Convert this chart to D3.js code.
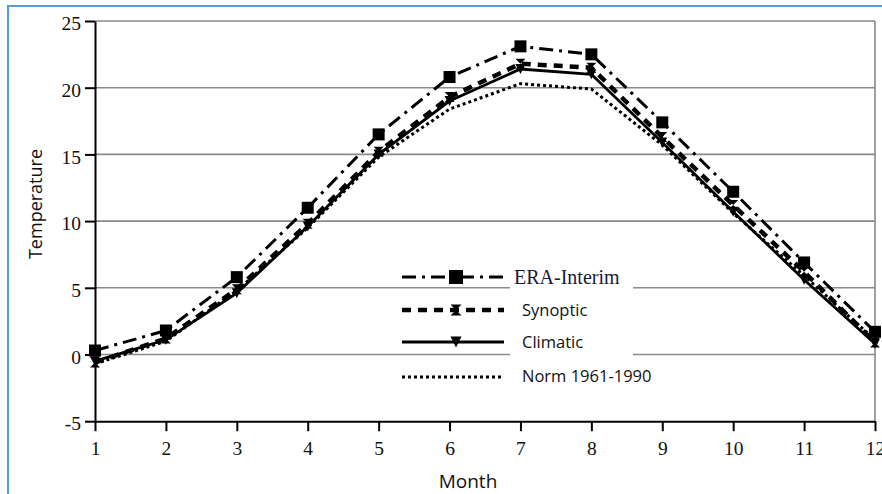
<!DOCTYPE html>
<html><head><meta charset="utf-8">
<script src="https://cdn.jsdelivr.net/npm/d3@7"></script>
<style>body{margin:0;background:#fff}svg{display:block}</style>
</head><body>
<script>
const months = [1,2,3,4,5,6,7,8,9,10,11,12];
const eraInterim = [0.3,1.8,5.8,11.0,16.5,20.8,23.1,22.5,17.4,12.2,6.9,1.7];
const synoptic   = [-0.6,1.2,4.9,9.8,15.2,19.3,21.8,21.5,16.3,11.2,6.2,0.9];
const climatic   = [-0.5,1.1,4.6,9.6,15.0,19.0,21.4,21.0,15.9,10.7,5.6,0.8];
const norm       = [-0.7,1.0,4.8,9.5,14.8,18.4,20.3,19.9,15.7,10.6,5.9,1.1];
const yTicks = [-5,0,5,10,15,20,25];
const yTickLabels = ["-5","0","5","10","15","20","25"];
const seriesNames = ["ERA-Interim","Synoptic","Climatic","Norm 1961-1990"];

const W=882,H=494;
const svg=d3.select("body").append("svg").attr("width",W).attr("height",H);
svg.append("rect").attr("x",8).attr("y",6).attr("width",W+20).attr("height",H+20)
  .attr("fill","#fff").attr("stroke","#5b9bd5").attr("stroke-width",2);

const x=d3.scaleLinear().domain([1,12]).range([95,875]);
const y=d3.scaleLinear().domain([-5,25]).range([421.2,21]);

// gridlines
svg.append("g").selectAll("line").data(yTicks.filter(d=>d>-5)).join("line")
  .attr("x1",x(1)).attr("x2",x(12)).attr("y1",d=>y(d)).attr("y2",d=>y(d))
  .attr("stroke","#8a8a8a").attr("stroke-width",1.6);
svg.append("line").attr("x1",x(12)).attr("x2",x(12)).attr("y1",y(25)).attr("y2",y(-5))
  .attr("stroke","#8a8a8a").attr("stroke-width",1.6);

// legend white box (hides gridlines behind text)
svg.append("rect").attr("x",510).attr("y",262).attr("width",123).attr("height",132).attr("fill","#fff");

// axes
const yAxis=d3.axisLeft(y).tickValues(yTicks).tickSize(10).tickSizeOuter(0).tickPadding(4)
  .tickFormat((d,i)=>yTickLabels[i]);
const gy=svg.append("g").attr("transform",`translate(${x(1)},0)`).call(yAxis);
gy.select(".domain").attr("stroke","#000").attr("stroke-width",2);
gy.selectAll(".tick line").attr("stroke","#000").attr("stroke-width",2);
gy.selectAll(".tick text").attr("font-family","'Liberation Serif',serif").attr("font-size",19.5).attr("fill","#111").attr("dy","0.45em");

const xAxis=d3.axisBottom(x).tickValues(months).tickSize(10).tickSizeOuter(0).tickPadding(10).tickFormat(d3.format("d"));
const gx=svg.append("g").attr("transform",`translate(0,${y(-5)})`).call(xAxis);
gx.select(".domain").attr("stroke","#000").attr("stroke-width",2);
gx.selectAll(".tick line").attr("stroke","#000").attr("stroke-width",2);
gx.selectAll(".tick text").attr("font-family","'Liberation Serif',serif").attr("font-size",19.5).attr("fill","#111");

// axis titles
svg.append("text").attr("transform","translate(42,204) rotate(-90)").attr("text-anchor","middle")
  .attr("font-family","'Open Sans',sans-serif").attr("font-size",18).attr("fill","#111").text("Temperature");
svg.append("text").attr("x",468).attr("y",488).attr("text-anchor","middle")
  .attr("font-family","'Open Sans',sans-serif").attr("font-size",19).attr("fill","#111").text("Month");

const styles=[
  {data:eraInterim, dash:"14,6,3,6", width:3, marker:"square"},
  {data:synoptic, dash:"9,7", width:4.5, marker:"hourglass"},
  {data:climatic, dash:null, width:2.8, marker:"tri"},
  {data:norm, dash:"3,3", width:3, marker:null}
];
const line=d3.line().x((d,i)=>x(months[i])).y(d=>y(d));

function drawMarker(g,type,cx,cy,s){
  if(type==="square"){
    g.append("rect").attr("x",cx-s/2).attr("y",cy-s/2).attr("width",s).attr("height",s).attr("fill","#000");
  } else if(type==="tri"){
    g.append("path").attr("d",`M${cx-s/2},${cy-s/2}L${cx+s/2},${cy-s/2}L${cx},${cy+s/2}Z`).attr("fill","#000");
  } else if(type==="hourglass"){
    g.append("path").attr("d",`M${cx-s/2},${cy-s/2}L${cx+s/2},${cy-s/2}L${cx},${cy}Z M${cx-s/2},${cy+s/2}L${cx+s/2},${cy+s/2}L${cx},${cy}Z`).attr("fill","#000");
  }
}

const order=[3,2,1,0];
order.forEach(k=>{
  const s=styles[k];
  svg.append("path").datum(s.data).attr("d",line).attr("fill","none").attr("stroke","#000")
    .attr("stroke-width",s.width).attr("stroke-dasharray",s.dash);
});
order.forEach(k=>{
  const s=styles[k];
  if(!s.marker) return;
  const g=svg.append("g");
  s.data.forEach((v,i)=>drawMarker(g,s.marker,x(months[i]),y(v),s.marker==="square"?12:10));
});

// legend
const legY=[277,310,342,377];
const legTextY=[284,316,348,382];
styles.forEach((s,i)=>{
  svg.append("line").attr("x1",402).attr("x2",504).attr("y1",legY[i]).attr("y2",legY[i])
    .attr("stroke","#000").attr("stroke-width",s.width).attr("stroke-dasharray",s.dash);
  if(s.marker){ const g=svg.append("g"); drawMarker(g,s.marker,456,legY[i],s.marker==="square"?14:11); }
  const t=svg.append("text").attr("y",legTextY[i]).attr("fill","#111").text(seriesNames[i]);
  if(i===0) t.attr("x",514).attr("font-family","'Liberation Serif',serif").attr("font-size",20).attr("fill","#1a1a3a");
  else t.attr("x",522).attr("font-family","'Open Sans',sans-serif").attr("font-size",16.5);
});
</script>
</body></html>
